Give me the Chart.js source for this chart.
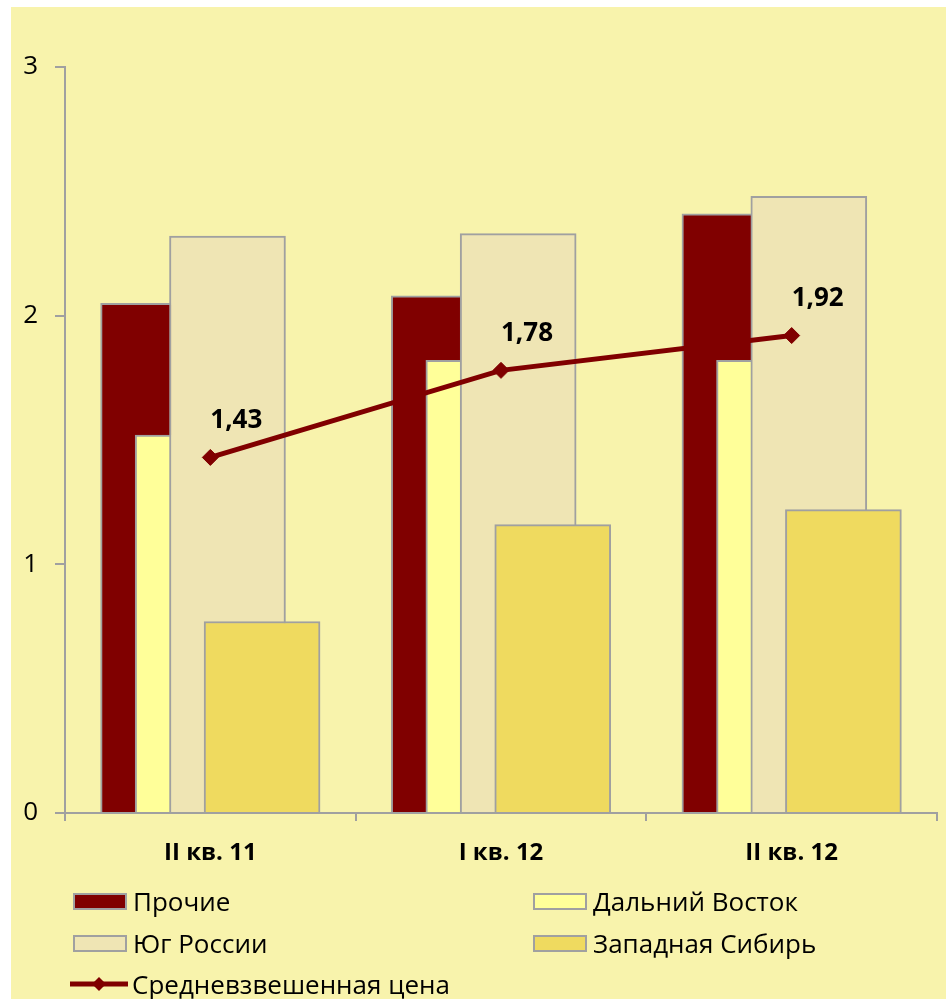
<!DOCTYPE html>
<html><head><meta charset="utf-8">
<script src="https://cdn.jsdelivr.net/npm/chart.js@4"></script>
<style>
html,body{margin:0;padding:0;background:#fff;}
#wrap{position:absolute;left:11px;top:7px;width:935px;height:992px;background:#F8F3AC;overflow:hidden;font-family:'Open Sans','Noto Sans',sans-serif;}
#cbox{position:absolute;left:0;top:0;width:935px;height:880px;}
.li{position:absolute;height:30px;display:flex;align-items:center;font-size:26px;line-height:30px;color:#000;white-space:nowrap;}
.sw{width:54px;height:17px;box-sizing:border-box;border:2px solid #A0A0A0;margin-right:6px;flex:none;}
.ln{width:58px;height:20px;margin-right:4px;flex:none;}
</style></head><body>
<div id="wrap"><div id="cbox"><canvas id="c" width="935" height="880"></canvas></div><div id="legend"></div></div>
<script>
// ---- data ----
const categories = ['II кв. 11', 'I кв. 12', 'II кв. 12'];
const prochie = [2.05, 2.08, 2.41];
const dalniyVostok = [1.52, 1.82, 1.82];
const yugRossii = [2.32, 2.33, 2.48];
const zapSibir = [0.77, 1.16, 1.22];
const avgPrice = [1.43, 1.78, 1.92];
const seriesNames = ['Прочие', 'Дальний Восток', 'Юг России', 'Западная Сибирь', 'Средневзвешенная цена'];
const yMin = 0, yMax = 3, yStep = 1;

// ---- styles / layout ----
const colors = ['#800000', '#FFFF99', '#EFE5B4', '#EFDA5F'];
const lineColor = '#800000';
const edge = '#A0A0A0';
const barShift = [-0.178, -0.059, 0.059, 0.178];   // overlap placement within a category
const FONT = "'Open Sans','Noto Sans',sans-serif";

const barSeries = [prochie, dalniyVostok, yugRossii, zapSibir];
const datasets = barSeries.map((vals, k) => ({
  type: 'bar',
  label: seriesNames[k],
  data: vals.map((v, i) => ({x: i + barShift[k], y: v})),
  backgroundColor: colors[k],
  borderColor: edge,
  borderWidth: 2,
  barThickness: 116,
  grouped: false,
  order: 4 - k
}));
datasets.push({
  type: 'line',
  label: seriesNames[4],
  data: avgPrice.map((v, i) => ({x: i, y: v})),
  borderColor: lineColor,
  backgroundColor: lineColor,
  borderWidth: 5,
  pointStyle: 'rectRot',
  pointRadius: 8,
  pointBorderWidth: 1,
  pointBackgroundColor: lineColor,
  pointBorderColor: lineColor,
  tension: 0,
  order: 0
});

const valueLabels = {
  id: 'valueLabels',
  afterDatasetsDraw(chart) {
    const meta = chart.getDatasetMeta(4);
    const ctx = chart.ctx;
    ctx.save();
    ctx.font = 'bold 26px ' + FONT;
    ctx.fillStyle = '#000';
    ctx.textAlign = 'center';
    ctx.textBaseline = 'middle';
    meta.data.forEach((pt, i) => {
      ctx.fillText(avgPrice[i].toFixed(2).replace('.', ','), pt.x + 26, pt.y - 37);
    });
    ctx.restore();
  }
};

new Chart(document.getElementById('c'), {
  data: {datasets},
  options: {
    responsive: false,
    devicePixelRatio: 1,
    animation: false,
    events: [],
    layout: {padding: {left: 0, right: 9, top: 60, bottom: 0}},
    plugins: {legend: {display: false}, tooltip: {enabled: false}},
    scales: {
      x: {
        type: 'linear',
        min: -0.5, max: 2.5,
        offset: false,
        afterBuildTicks: s => { s.ticks = categories.map((_, i) => ({value: i})); },
        afterFit: s => { s.height = 74; },
        grid: {offset: true, drawOnChartArea: false, drawTicks: true, tickLength: 8, color: edge, lineWidth: 2},
        border: {display: true, color: edge, width: 2},
        ticks: {
          autoSkip: false, maxRotation: 0, padding: 18,
          color: '#000', font: {family: FONT, size: 24, weight: 'bold'},
          callback: v => categories[v]
        }
      },
      y: {
        min: yMin, max: yMax,
        afterFit: s => { s.width = 54; },
        grid: {drawOnChartArea: false, drawTicks: true, tickLength: 10, color: edge, lineWidth: 2},
        border: {display: true, color: edge, width: 2},
        ticks: {stepSize: yStep, padding: 17, color: '#000', font: {family: FONT, size: 26}}
      }
    }
  },
  plugins: [valueLabels]
});

// ---- legend (HTML) ----
const legendPos = [
  {left: 62, top: 879}, {left: 522, top: 879},
  {left: 62, top: 921}, {left: 522, top: 921},
  {left: 59, top: 962}
];
const lg = document.getElementById('legend');
seriesNames.forEach((name, k) => {
  const d = document.createElement('div');
  d.className = 'li';
  d.style.left = legendPos[k].left + 'px';
  d.style.top = legendPos[k].top + 'px';
  if (k < 4) {
    const s = document.createElement('span');
    s.className = 'sw';
    s.style.background = colors[k];
    d.appendChild(s);
  } else {
    const s = document.createElementNS('http://www.w3.org/2000/svg', 'svg');
    s.setAttribute('class', 'ln');
    s.setAttribute('viewBox', '0 0 58 20');
    s.innerHTML = '<line x1="0" y1="10" x2="58" y2="10" stroke="' + lineColor + '" stroke-width="5"/>' +
      '<polygon points="29,3 36,10 29,17 22,10" fill="' + lineColor + '"/>';
    d.appendChild(s);
  }
  const t = document.createElement('span');
  t.textContent = name;
  d.appendChild(t);
  lg.appendChild(d);
});
</script>
</body></html>
